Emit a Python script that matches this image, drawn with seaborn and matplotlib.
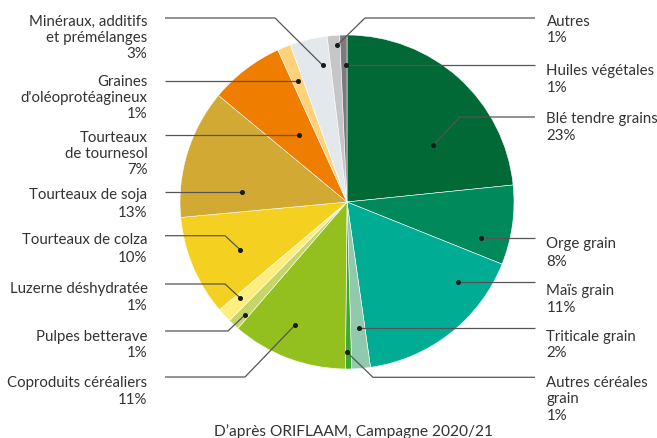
import numpy as np
import matplotlib
matplotlib.use("Agg")
import matplotlib.pyplot as plt
import seaborn as sns

# ---- data (clockwise from 12 o'clock) ----
categories = ["Blé tendre grains", "Orge grain", "Maïs grain", "Triticale grain",
              "Autres céréales grain", "Coproduits céréaliers", "Pulpes betterave",
              "Luzerne déshydratée", "Tourteaux de colza", "Tourteaux de soja",
              "Tourteaux de tournesol", "Graines d'oléoprotéagineux",
              "Minéraux, additifs et prémélanges", "Autres", "Huiles végétales"]
# slice sizes as drawn in the picture (share of the disc, %)
values = [23.4, 7.7, 16.7, 1.8, 0.6, 11.2, 1.1, 1.4, 9.7, 12.5, 7.2, 1.3, 3.6, 1.2, 0.7]
# percentages printed in the labels
label_pct = ["23%", "8%", "11%", "2%", "1%", "11%", "1%", "1%", "10%", "13%",
             "7%", "1%", "3%", "1%", "1%"]
label_lines = [["Blé tendre grains"], ["Orge grain"], ["Maïs grain"], ["Triticale grain"],
               ["Autres céréales", "grain"], ["Coproduits céréaliers"], ["Pulpes betterave"],
               ["Luzerne déshydratée"], ["Tourteaux de colza"], ["Tourteaux de soja"],
               ["Tourteaux", "de tournesol"], ["Graines", "d'oléoprotéagineux"],
               ["Minéraux, additifs", "et prémélanges"], ["Autres"], ["Huiles végétales"]]
colors = ["#006935", "#008A5B", "#00AD94", "#91C9AD", "#3DA935", "#94C01F", "#C6D66B",
          "#FEEE80", "#F4D021", "#D2A932", "#EE7D00", "#FED27B", "#E3E8EC", "#C6C6C6",
          "#7B7B7B"]
caption = "D\u2019après ORIFLAAM, Campagne 2020/21"

# ---- layout (pixels, y from top) ----
W, H = 657, 439
CX, CY, R = 347, 203, 167
# side, line centers, leader y, elbow x, dot (angle deg, radius fraction)
layout = [
    ("R", [118, 135], 118, 460, (33.5, 0.62)),
    ("R", [243, 260], 239.5, None, (-15.0, 0.83)),
    ("R", [289, 306], 283, None, (-35.5, 0.82)),
    ("R", [335.7, 352], 329, None, (-84.6, 0.76)),
    ("R", [381.7, 398, 415], 378.3, 373, (-90.0, 0.90)),
    ("L", [381.7, 398.3], 378, 245, (247.1, 0.80)),
    ("L", [335, 351.7], 332, 228, (227.9, 0.91)),
    ("L", [287.7, 304], 285, 225, (221.9, 0.86)),
    ("L", [239, 256.7], 236.7, 225, (204.2, 0.70)),
    ("L", [193, 211.7], 193, None, (174.5, 0.63)),
    ("L", [136, 153, 169], 137, None, (125.5, 0.49)),
    ("L", [80, 96.7, 113], 82, None, (112.0, 0.78)),
    ("L", [20.7, 36.7, 52.7], 19, 275, (100.0, 0.83)),
    ("R", [20.7, 36.7], 19, 365, (93.7, 0.94)),
    ("R", [69, 86], 66, None, (90.4, 0.82)),
]

sns.set_theme(style="white")
plt.rcParams["font.family"] = ["Lato", "DejaVu Sans"]
TXT = "#333333"
FS = 10.85

fig = plt.figure(figsize=(W / 100, H / 100), dpi=100)
ax = fig.add_axes([0, 0, 1, 1])
ax.pie(values, colors=colors, startangle=90, counterclock=False,
       center=(CX, H - CY), radius=R, frame=True,
       wedgeprops=dict(edgecolor="white", linewidth=0.4))
ax.set_xlim(0, W)
ax.set_ylim(0, H)
ax.set_aspect("equal")
ax.axis("off")

def fy(y):
    return H - y

for lines, pct, (side, ys, ly, ex, (ang, rf)) in zip(label_lines, label_pct, layout):
    texts = lines + [pct]
    if side == "L":
        tx, ha, lx0 = 147.5, "right", 165
    else:
        tx, ha, lx0 = 546.5, "left", 535
    for t, yc in zip(texts, ys):
        ax.text(tx, fy(yc + 5.5), t, ha=ha, va="baseline", fontsize=FS, color=TXT)
    dx = CX + rf * R * np.cos(np.radians(ang))
    dy = H - CY + rf * R * np.sin(np.radians(ang))
    if ex is None:
        xs, yss = [lx0, dx], [dy, dy]
    else:
        xs, yss = [lx0, ex, dx], [fy(ly), fy(ly), dy]
    ax.plot(xs, yss, color="#555555", lw=0.9, solid_capstyle="butt")
    ax.plot([dx], [dy], "o", ms=2.6, color="#1a1a1a")

ax.text(353, fy(430 + 6), caption, ha="center", va="baseline", fontsize=11.2, color=TXT)

fig.savefig("out.png", dpi=100)
